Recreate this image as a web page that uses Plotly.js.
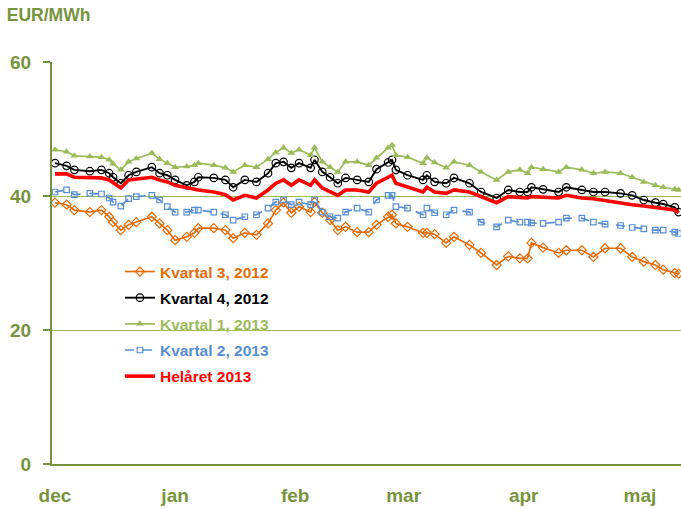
<!DOCTYPE html>
<html>
<head>
<meta charset="utf-8">
<script src="https://cdn.plot.ly/plotly-3.0.1.min.js"></script>
<style>html,body{margin:0;padding:0;background:#fff;}#chart{width:681px;height:509px;}</style>
</head>
<body>
<div id="chart"></div>
<script>
// Dates of the observations
const dates = [
  '2012-12-01','2012-12-04','2012-12-06','2012-12-10','2012-12-13','2012-12-15','2012-12-16','2012-12-18','2012-12-20','2012-12-22',
  '2012-12-26','2012-12-28','2012-12-30','2013-01-01','2013-01-04','2013-01-06','2013-01-07','2013-01-11','2013-01-14','2013-01-16',
  '2013-01-19','2013-01-22','2013-01-25','2013-01-27','2013-01-29','2013-01-31','2013-02-02','2013-02-05','2013-02-06','2013-02-08',
  '2013-02-10','2013-02-12','2013-02-14','2013-02-17','2013-02-20','2013-02-22','2013-02-25','2013-02-26','2013-02-27','2013-03-02',
  '2013-03-06','2013-03-07','2013-03-09','2013-03-12','2013-03-14','2013-03-18','2013-03-21','2013-03-25','2013-03-28','2013-03-31',
  '2013-04-02','2013-04-03','2013-04-06','2013-04-10','2013-04-12','2013-04-16','2013-04-19','2013-04-22','2013-04-26','2013-04-29',
  '2013-05-02','2013-05-05','2013-05-07','2013-05-10','2013-05-11'
];

// EUR/MWh
const kvartal3_2012 = [
  39.0,38.7,37.9,37.6,37.9,36.9,36.1,34.9,35.7,36.1,
  36.9,35.9,34.9,33.4,33.9,34.5,35.2,35.2,34.9,33.7,
  34.5,34.2,35.9,37.9,39.0,37.5,38.4,37.6,39.1,37.5,
  36.4,34.9,35.4,34.6,34.6,35.7,36.9,37.2,35.9,35.4,
  34.5,34.5,34.3,33.0,33.9,32.7,31.5,29.7,31.0,30.7,
  30.7,33.0,32.3,31.5,31.9,31.9,30.9,32.2,32.2,30.9,
  30.2,29.7,29.0,28.5,28.4
];
const kvartal4_2012 = [
  44.9,44.5,43.9,43.7,43.9,43.4,42.8,41.9,43.1,43.6,
  44.3,43.4,43.1,42.4,41.6,42.1,42.8,42.7,42.4,41.3,
  42.4,42.1,43.4,44.9,45.1,44.2,44.9,44.2,45.4,43.6,
  42.8,41.9,42.7,42.4,42.1,44.0,45.0,45.4,43.9,43.1,
  42.4,43.1,42.1,41.9,42.7,41.9,40.6,39.7,40.9,40.6,
  40.6,41.3,41.0,40.6,41.3,40.9,40.6,40.6,40.4,40.1,
  39.4,39.0,38.8,38.3,37.6
];
const kvartal1_2013 = [
  46.9,46.6,46.0,45.9,45.8,45.4,44.8,43.9,45.1,45.6,
  46.4,45.5,44.9,44.3,44.4,44.6,44.9,44.6,44.2,43.6,
  44.6,44.3,45.5,46.5,47.2,46.4,46.9,46.1,47.2,45.1,
  44.3,43.6,45.1,45.1,44.6,45.7,47.2,47.6,46.1,45.8,
  44.9,45.7,45.0,44.2,45.1,44.6,43.6,42.4,43.6,43.9,
  43.4,44.3,44.0,43.6,44.3,43.9,43.4,43.6,43.4,42.8,
  42.1,41.6,41.3,41.0,40.9
];
const kvartal2_2013 = [
  40.6,40.9,40.2,40.4,40.3,39.7,39.1,38.5,39.6,39.9,
  40.1,39.4,38.4,37.6,37.6,37.9,37.9,37.6,37.2,36.4,
  36.9,37.2,38.2,39.1,39.4,38.7,39.1,38.7,39.4,37.6,
  36.9,36.7,37.6,38.2,37.6,39.4,40.1,40.1,38.4,38.2,
  37.2,38.2,37.5,37.2,37.9,37.6,36.1,35.4,36.4,36.1,
  36.1,36.0,35.9,36.1,36.7,36.7,36.1,35.8,35.6,35.3,
  35.1,34.9,34.9,34.6,34.4
];
const helaret_2013 = [
  43.3,43.3,42.8,42.8,42.7,42.4,42.0,41.2,42.4,42.5,
  42.8,42.4,42.1,41.6,41.2,41.0,40.9,40.6,40.2,39.4,
  40.1,39.7,40.9,41.9,42.4,41.6,42.4,41.6,42.4,41.2,
  40.6,40.1,40.9,40.9,40.6,41.9,42.8,43.1,41.9,41.3,
  40.6,41.3,40.6,40.4,40.9,40.6,39.9,39.0,39.9,39.7,
  39.7,39.9,39.8,39.7,40.1,39.7,39.6,39.3,39.0,38.7,
  38.5,38.3,38.2,37.9,37.5
];

const seriesNames = ['Kvartal 3, 2012','Kvartal 4, 2012','Kvartal 1, 2013','Kvartal 2, 2013','Helåret 2013'];
const monthTicks = ['2012-12-01','2013-01-01','2013-02-01','2013-03-01','2013-04-01','2013-05-01'];
const monthLabels = ['dec','jan','feb','mar','apr','maj'];
const yTicks = [0,20,40,60];

const axisGreen = '#77933C';
const colors = ['#E46C0A','#000000','#9BBB59','#558ED5','#FF0000'];

function nm(i){ return '<span style="color:' + colors[i] + '">' + seriesNames[i] + '</span>'; }

const traces = [
  {x: dates, y: kvartal3_2012, name: nm(0), legendgroup:'g0', mode:'lines+markers', type:'scatter',
   line:{color:colors[0], width:1.7}, marker:{symbol:'diamond-open', size:7, color:colors[0], line:{width:1.2, color:colors[0]}}},
  {x: dates, y: kvartal4_2012, name: nm(1), legendgroup:'g1', mode:'lines+markers', type:'scatter',
   line:{color:colors[1], width:1.9}, marker:{symbol:'circle-open', size:7.5, color:colors[1], line:{width:1.2, color:colors[1]}}},
  {x: dates, y: kvartal1_2013, name: nm(2), legendgroup:'g2', mode:'lines+markers', type:'scatter',
   line:{color:colors[2], width:1.7}, marker:{symbol:'triangle-up', size:7, color:colors[2]}},
  {x: dates, y: kvartal2_2013, name: nm(3), legendgroup:'g3', mode:'lines+markers', type:'scatter',
   line:{color:colors[3], width:1.7, dash:'dash'}, marker:{symbol:'square-open', size:5.5, color:colors[3], line:{width:1.2, color:colors[3]}}},
  {x: dates, y: helaret_2013, name: nm(4), legendgroup:'g4', mode:'lines', type:'scatter',
   line:{color:colors[4], width:3.6}}
];

const layout = {
  width: 681, height: 509,
  margin: {l:52, r:0, t:62, b:45},
  paper_bgcolor:'#ffffff', plot_bgcolor:'#ffffff',
  font: {family:'Liberation Sans, Arial, sans-serif', color: axisGreen},
  title: {text:'EUR/MWh', x:0.01, xref:'container', xanchor:'left', y:0.97, yref:'container', yanchor:'middle',
          font:{size:17.5, weight:'bold', color:axisGreen, family:'Liberation Sans, Arial, sans-serif'}},
  showlegend: true,
  legend: {x:0.108, xanchor:'left', y:0.52, yanchor:'top', bgcolor:'rgba(0,0,0,0)', borderwidth:0,
           traceorder:'grouped', tracegroupgap:3,
           font:{size:15.5, weight:'bold', family:'Liberation Sans, Arial, sans-serif'}},
  xaxis: {type:'date', range:['2012-11-30 05:30','2013-05-11 14:24'],
          tickmode:'array', tickvals: monthTicks, ticktext: monthLabels,
          showgrid:false, zeroline:false, showline:true, linecolor:axisGreen, linewidth:2,
          ticks:'', ticklabelstandoff:13,
          tickfont:{size:19, weight:'bold', color:axisGreen}},
  yaxis: {range:[0,60], tickmode:'array', tickvals: yTicks,
          showgrid:true, gridcolor:'#9BBB59', gridwidth:1, zeroline:false,
          showline:true, linecolor:axisGreen, linewidth:2,
          ticks:'outside', ticklen:7, tickcolor:axisGreen, tickwidth:1.5, ticklabelstandoff:8,
          tickfont:{size:19, weight:'bold', color:axisGreen}},
  hovermode:false
};

Plotly.newPlot('chart', traces, layout, {displayModeBar:false, staticPlot:true});
</script>
</body>
</html>
